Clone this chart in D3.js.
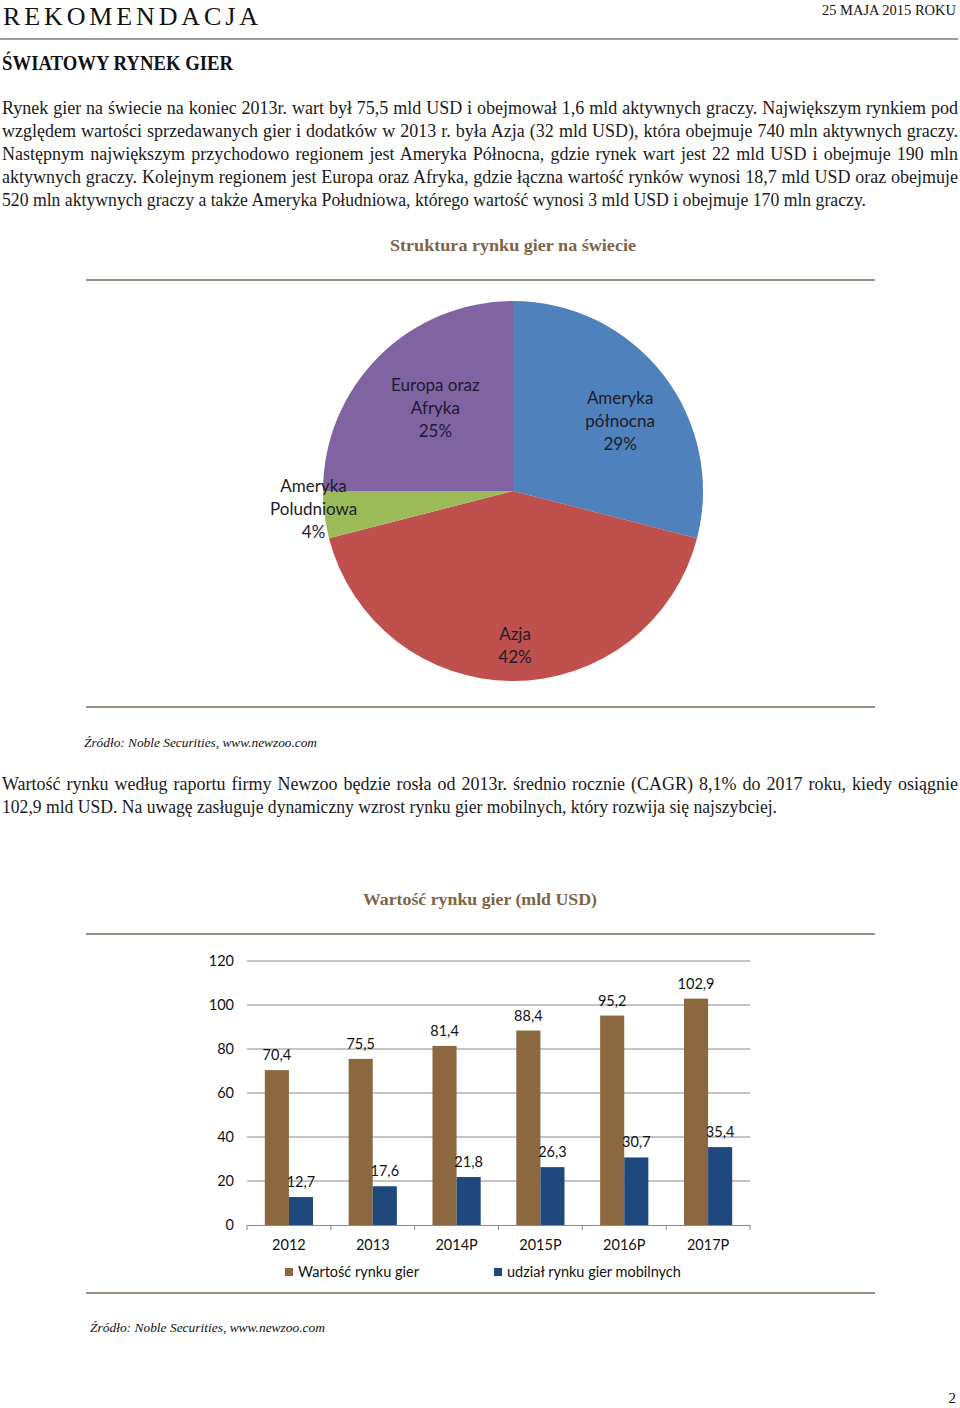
<!DOCTYPE html>
<html>
<head>
<meta charset="utf-8">
<script src="https://cdn.jsdelivr.net/npm/d3@7"></script>
<style>
  html, body { margin: 0; padding: 0; background: #fff; }
  svg { display: block; }
</style>
</head>
<body>
<svg id="page" width="960" height="1408"></svg>
<script>
// ---------- DATA ----------
const pieCategories = ["Ameryka północna", "Azja", "Ameryka Poludniowa", "Europa oraz Afryka"];
const pieLabelLines = [["Ameryka", "północna"], ["Azja"], ["Ameryka", "Poludniowa"], ["Europa oraz", "Afryka"]];
const pieShares = [29, 42, 4, 25];

const years = ["2012", "2013", "2014P", "2015P", "2016P", "2017P"];
const marketValue = [70.4, 75.5, 81.4, 88.4, 95.2, 102.9];
const mobileValue = [12.7, 17.6, 21.8, 26.3, 30.7, 35.4];
const seriesNames = ["Wartość rynku gier", "udział rynku gier mobilnych"];
const yTicks = [0, 20, 40, 60, 80, 100, 120];

const para1 = [
  "Rynek gier na świecie na koniec 2013r. wart był 75,5 mld USD i obejmował 1,6 mld aktywnych graczy. Największym rynkiem pod",
  "względem wartości sprzedawanych gier i dodatków w 2013 r. była Azja (32 mld USD), która obejmuje 740 mln aktywnych graczy.",
  "Następnym największym przychodowo regionem jest Ameryka Północna, gdzie rynek wart jest 22 mld USD i obejmuje 190 mln",
  "aktywnych graczy. Kolejnym regionem jest Europa oraz Afryka, gdzie łączna wartość rynków wynosi 18,7 mld USD oraz obejmuje",
  "520 mln aktywnych graczy a także Ameryka Południowa, którego wartość wynosi 3 mld USD i obejmuje 170 mln graczy."
];
const para2 = [
  "Wartość rynku według raportu firmy Newzoo będzie rosła od 2013r. średnio rocznie (CAGR) 8,1% do 2017 roku, kiedy osiągnie",
  "102,9 mld USD. Na uwagę zasługuje dynamiczny wzrost rynku gier mobilnych, który rozwija się najszybciej."
];

// ---------- STYLE ----------
const SERIF = "'Liberation Serif', 'DejaVu Serif', serif";
const SANS = "Lato, 'Open Sans', 'Liberation Sans', sans-serif";
const pieColors = ["#4F81BD", "#C0504D", "#9BBB59", "#8064A2"];
const barColors = ["#8C6841", "#1F497D"];
const titleBrown = "#7d6347";
const ruleColor = "#9a8f82";

const svg = d3.select("#page");

function fit(t, target, justify) {
  const w = t.node().getComputedTextLength();
  if (justify && w < target) {
    const n = (t.text().match(/ /g) || []).length;
    if (n) t.attr("word-spacing", (target - w) / n);
  } else {
    t.attr("textLength", target).attr("lengthAdjust", "spacingAndGlyphs");
  }
  return t;
}

// ---------- HEADER ----------
const hdr = svg.append("text").attr("x", 3).attr("y", 25)
  .attr("font-family", SERIF).attr("font-size", 26).attr("fill", "#111")
  .text("REKOMENDACJA");
hdr.attr("textLength", 255).attr("lengthAdjust", "spacing");

fit(svg.append("text").attr("x", 822).attr("y", 15)
  .attr("font-family", SERIF).attr("font-size", 14).attr("fill", "#111")
  .text("25 MAJA 2015 ROKU"), 134, false);

svg.append("line").attr("x1", 0).attr("x2", 958).attr("y1", 39).attr("y2", 39)
  .attr("stroke", "#9c9c9c").attr("stroke-width", 2);

fit(svg.append("text").attr("x", 2).attr("y", 70)
  .attr("font-family", SERIF).attr("font-size", 20).attr("font-weight", "bold").attr("fill", "#111")
  .text("ŚWIATOWY RYNEK GIER"), 231, false);

// ---------- PARAGRAPHS ----------
function paragraph(lines, y0, lastWidth) {
  lines.forEach((s, i) => {
    const t = svg.append("text").attr("x", 2).attr("y", y0 + i * 23)
      .attr("font-family", SERIF).attr("font-size", 18).attr("fill", "#1a1a1a")
      .text(s);
    if (i < lines.length - 1) fit(t, 956, true);
    else fit(t, lastWidth, false);
  });
}
paragraph(para1, 114, 864);

// ---------- PIE CHART ----------
fit(svg.append("text").attr("x", 390).attr("y", 251)
  .attr("font-family", SERIF).attr("font-size", 17).attr("font-weight", "bold").attr("fill", titleBrown)
  .text("Struktura rynku gier na świecie"), 246, false);

svg.append("line").attr("x1", 86).attr("x2", 875).attr("y1", 280).attr("y2", 280)
  .attr("stroke", ruleColor).attr("stroke-width", 2);
svg.append("line").attr("x1", 86).attr("x2", 875).attr("y1", 707).attr("y2", 707)
  .attr("stroke", ruleColor).attr("stroke-width", 2);

const pieCx = 513, pieCy = 491, pieR = 190;
const labelRadius = [128, 154, 201, 114];
const labelNudge = [[6, 8], [2, 1], [0, -7], [3, -2]];
const pie = d3.pie().sort(null).value(d => d)(pieShares);
const arc = d3.arc().innerRadius(0).outerRadius(pieR);
const gPie = svg.append("g").attr("transform", `translate(${pieCx},${pieCy})`);
gPie.selectAll("path").data(pie).join("path")
  .attr("d", arc).attr("fill", (d, i) => pieColors[i]);

pie.forEach((d, i) => {
  const la = d3.arc().innerRadius(labelRadius[i]).outerRadius(labelRadius[i]);
  const [c0, c1] = la.centroid(d);
  const cx = c0 + labelNudge[i][0], cy = c1 + labelNudge[i][1];
  const lines = pieLabelLines[i].concat([pieShares[i] + "%"]);
  const t = gPie.append("text").attr("text-anchor", "middle")
    .attr("font-family", SANS).attr("font-size", 17).attr("fill", "#1c1c2a");
  const y0 = cy - (lines.length - 1) * 23 / 2;
  lines.forEach((s, j) => {
    t.append("tspan").attr("x", cx).attr("y", y0 + j * 23).attr("dy", "0.35em").text(s);
  });
});

fit(svg.append("text").attr("x", 84).attr("y", 747)
  .attr("font-family", SERIF).attr("font-size", 13.5).attr("font-style", "italic").attr("fill", "#111")
  .text("Źródło: Noble Securities, www.newzoo.com"), 233, false);

paragraph(para2, 790, 775);

// ---------- BAR CHART ----------
fit(svg.append("text").attr("x", 363).attr("y", 905)
  .attr("font-family", SERIF).attr("font-size", 17).attr("font-weight", "bold").attr("fill", titleBrown)
  .text("Wartość rynku gier (mld USD)"), 234, false);

svg.append("line").attr("x1", 86).attr("x2", 875).attr("y1", 934).attr("y2", 934)
  .attr("stroke", ruleColor).attr("stroke-width", 2);
svg.append("line").attr("x1", 86).attr("x2", 875).attr("y1", 1293).attr("y2", 1293)
  .attr("stroke", ruleColor).attr("stroke-width", 2);

const plotL = 247, plotR = 750, plotT = 961, plotB = 1225;
const y = d3.scaleLinear().domain([0, 120]).range([plotB, plotT]);
const x0 = d3.scaleBand().domain(years).range([plotL, plotR]).padding(0);
const groupW = x0.bandwidth() * 0.575;
const x1 = d3.scaleBand().domain(seriesNames)
  .range([(x0.bandwidth() - groupW) / 2, (x0.bandwidth() + groupW) / 2]).padding(0);

// gridlines
svg.append("g").selectAll("line").data(yTicks.filter(v => v > 0)).join("line")
  .attr("x1", plotL).attr("x2", plotR)
  .attr("y1", d => y(d)).attr("y2", d => y(d))
  .attr("stroke", "#8a8a8a").attr("stroke-width", 1);

// y axis labels
const yAxis = d3.axisLeft(y).tickValues(yTicks).tickSize(0).tickPadding(13);
const gy = svg.append("g").attr("transform", `translate(${plotL},0)`).call(yAxis);
gy.select(".domain").remove();
gy.selectAll("text").attr("font-family", SANS).attr("font-size", 14.5).attr("fill", "#111");

// bars
const series = [marketValue, mobileValue];
series.forEach((vals, s) => {
  const g = svg.append("g");
  g.selectAll("rect").data(vals).join("rect")
    .attr("x", (d, i) => x0(years[i]) + x1(seriesNames[s]))
    .attr("width", x1.bandwidth())
    .attr("y", d => y(d))
    .attr("height", d => y(0) - y(d))
    .attr("fill", barColors[s]);
  g.selectAll("text").data(vals).join("text")
    .attr("x", (d, i) => x0(years[i]) + x1(seriesNames[s]) + x1.bandwidth() / 2)
    .attr("y", d => y(d) - 10)
    .attr("text-anchor", "middle")
    .attr("font-family", SANS).attr("font-size", 14.5).attr("fill", "#111")
    .text(d => String(d).replace(".", ","));
});

// x axis
const xAxis = d3.axisBottom(x0).tickSize(0).tickPadding(15);
const gx = svg.append("g").attr("transform", `translate(0,${plotB})`).call(xAxis);
gx.select(".domain").attr("stroke", "#8a8a8a");
gx.selectAll("text").attr("font-family", SANS).attr("font-size", 14.5).attr("fill", "#111");
const bounds = years.map(d => x0(d)).concat([plotR]);
gx.selectAll("line.bound").data(bounds).join("line").attr("class", "bound")
  .attr("x1", d => d).attr("x2", d => d).attr("y1", 0).attr("y2", 5)
  .attr("stroke", "#8a8a8a");

// legend
const legendX = [285, 494];
seriesNames.forEach((n, i) => {
  svg.append("rect").attr("x", legendX[i]).attr("y", 1268).attr("width", 8).attr("height", 8)
    .attr("fill", barColors[i]);
  svg.append("text").attr("x", legendX[i] + 13).attr("y", 1277)
    .attr("font-family", SANS).attr("font-size", 14.5).attr("fill", "#111").text(n);
});

fit(svg.append("text").attr("x", 90).attr("y", 1332)
  .attr("font-family", SERIF).attr("font-size", 13.5).attr("font-style", "italic").attr("fill", "#111")
  .text("Źródło: Noble Securities, www.newzoo.com"), 235, false);

svg.append("text").attr("x", 956).attr("y", 1403).attr("text-anchor", "end")
  .attr("font-family", SERIF).attr("font-size", 15).attr("fill", "#111").text("2");
</script>
</body>
</html>
